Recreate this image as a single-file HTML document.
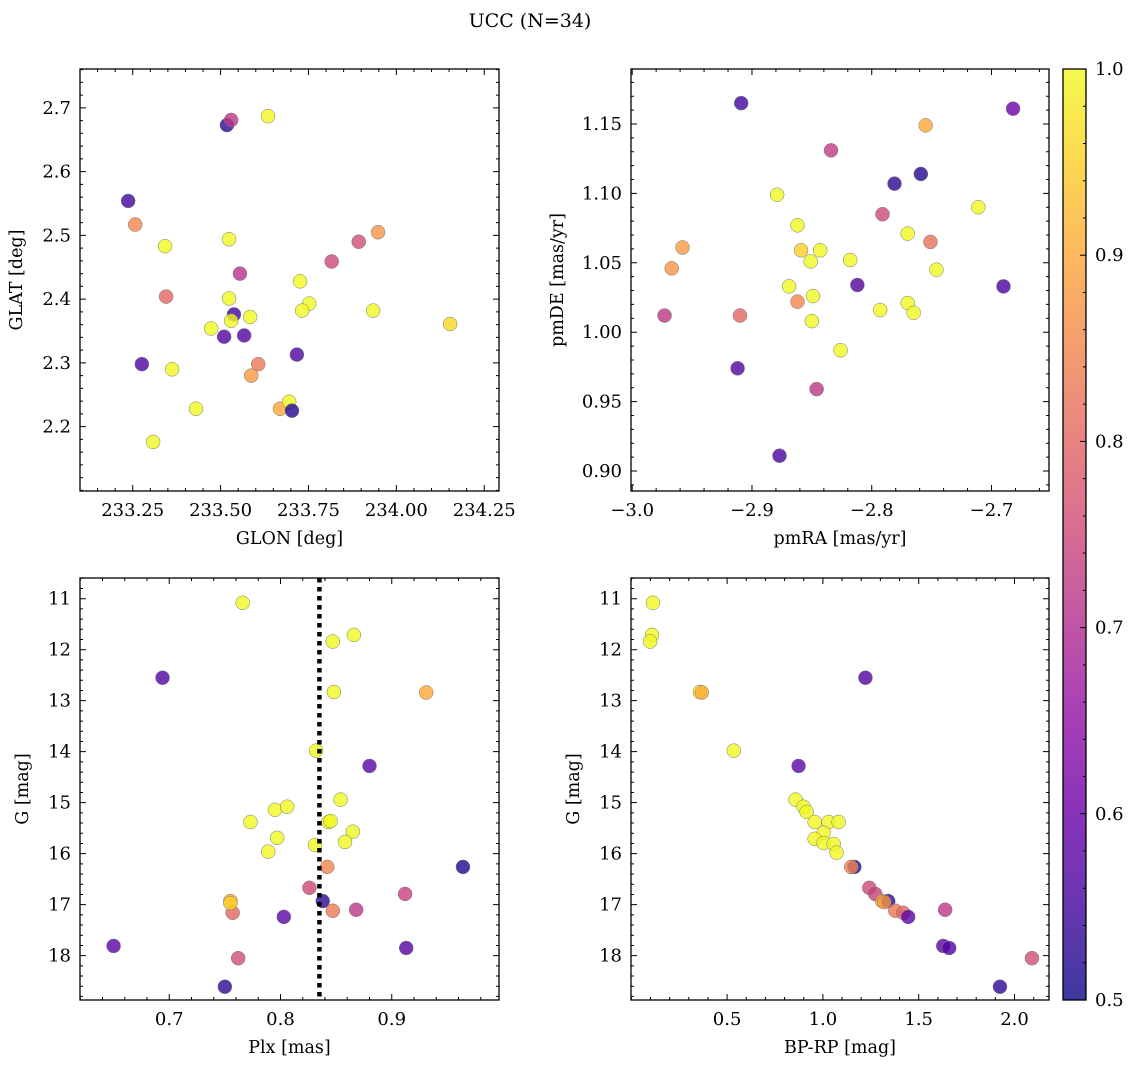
<!DOCTYPE html>
<html><head><meta charset="utf-8">
<style>
body{margin:0;background:#fff;}
svg{display:block;font-family:"DejaVu Serif","Liberation Serif",serif;}
</style></head>
<body>
<svg id="fig" width="1136" height="1068" viewBox="0 0 1136 1068">
<text x="530" y="27" text-anchor="middle" font-size="19">UCC (N=34)</text>
</svg>
<script>
// Panel 1: GLON vs GLAT
const glon = [233.518,233.530,233.635,233.237,233.257,233.342,233.524,233.555,233.816,233.893,233.948,233.726,233.345,233.524,233.752,233.732,233.934,234.153,233.538,233.584,233.530,233.473,233.510,233.567,233.717,233.607,233.276,233.362,233.587,233.430,233.669,233.695,233.703,233.308];
const glat = [2.673,2.681,2.687,2.554,2.517,2.483,2.494,2.440,2.459,2.490,2.505,2.428,2.404,2.401,2.393,2.382,2.382,2.361,2.376,2.372,2.366,2.354,2.341,2.343,2.313,2.298,2.298,2.290,2.280,2.228,2.228,2.239,2.225,2.176];
const prob1 = [0.53,0.72,1.0,0.55,0.85,1.0,1.0,0.71,0.75,0.76,0.87,1.0,0.8,1.0,1.0,1.0,1.0,0.96,0.55,1.0,1.0,1.0,0.57,0.57,0.57,0.83,0.57,1.0,0.88,1.0,0.9,1.0,0.52,1.0];
const glonTicks = [233.25,233.50,233.75,234.00,234.25];
const glatTicks = [2.2,2.3,2.4,2.5,2.6,2.7];
// Panel 2: pmRA vs pmDE
const pmra = [-2.909,-2.682,-2.755,-2.834,-2.759,-2.781,-2.879,-2.711,-2.791,-2.862,-2.770,-2.751,-2.958,-2.859,-2.843,-2.818,-2.851,-2.967,-2.746,-2.869,-2.812,-2.690,-2.849,-2.862,-2.770,-2.793,-2.765,-2.973,-2.910,-2.850,-2.826,-2.912,-2.846,-2.877];
const pmde = [1.165,1.161,1.149,1.131,1.114,1.107,1.099,1.090,1.085,1.077,1.071,1.065,1.061,1.059,1.059,1.052,1.051,1.046,1.045,1.033,1.034,1.033,1.026,1.022,1.021,1.016,1.014,1.012,1.012,1.008,0.987,0.974,0.959,0.911];
const prob2 = [0.55,0.6,0.9,0.73,0.52,0.53,1.0,1.0,0.75,1.0,1.0,0.82,0.88,0.95,1.0,1.0,1.0,0.87,1.0,1.0,0.57,0.56,1.0,0.85,1.0,1.0,1.0,0.72,0.8,1.0,1.0,0.57,0.72,0.56];
const pmraTicks = [-3.0,-2.9,-2.8,-2.7];
const pmdeTicks = [0.90,0.95,1.00,1.05,1.10,1.15];
// Panel 3: Plx vs G
const plx = [0.766,0.866,0.847,0.694,0.848,0.931,0.832,0.880,0.854,0.795,0.806,0.773,0.843,0.845,0.865,0.797,0.858,0.831,0.789,0.964,0.842,0.826,0.912,0.755,0.838,0.847,0.868,0.757,0.803,0.650,0.913,0.762,0.750,0.755];
const gmag3 = [11.08,11.71,11.84,12.55,12.83,12.84,13.98,14.28,14.94,15.14,15.08,15.38,15.38,15.36,15.57,15.69,15.77,15.83,15.96,16.26,16.26,16.67,16.79,16.93,16.93,17.12,17.10,17.16,17.24,17.81,17.85,18.05,18.61,16.97];
const prob3 = [1.0,1.0,1.0,0.57,1.0,0.9,1.0,0.58,1.0,1.0,1.0,1.0,1.0,1.0,1.0,1.0,1.0,1.0,1.0,0.52,0.85,0.75,0.74,0.9,0.53,0.83,0.72,0.8,0.58,0.58,0.57,0.76,0.53,0.95];
const plxTicks = [0.7,0.8,0.9];
const gTicks = [11,12,13,14,15,16,17,18];
// Panel 4: BP-RP vs G
const bprp = [0.113,0.108,0.098,1.222,0.358,0.368,0.535,0.873,0.857,0.899,0.915,0.957,1.030,1.082,1.004,0.957,1.004,1.056,1.071,1.164,1.148,1.242,1.273,1.310,1.341,1.378,1.638,1.419,1.445,1.628,1.659,2.091,1.924,1.320];
const gmag4 = [11.08,11.71,11.84,12.55,12.83,12.84,13.98,14.28,14.94,15.08,15.18,15.38,15.38,15.38,15.59,15.71,15.79,15.81,15.98,16.26,16.26,16.67,16.79,16.93,16.93,17.12,17.10,17.16,17.24,17.81,17.85,18.05,18.61,16.95];
const prob4 = [1.0,1.0,1.0,0.57,1.0,0.9,1.0,0.58,1.0,1.0,1.0,1.0,1.0,1.0,1.0,1.0,1.0,1.0,1.0,0.52,0.85,0.75,0.74,0.9,0.53,0.83,0.72,0.8,0.58,0.58,0.57,0.76,0.53,0.88];
const bprpTicks = [0.5,1.0,1.5,2.0];
const plxMedian = 0.835;
const cbTicks = [0.5,0.6,0.7,0.8,0.9,1.0];

const NS="http://www.w3.org/2000/svg";
const svg=document.getElementById('fig');
function mk(tag,attrs,parent){const e=document.createElementNS(NS,tag);for(const k in attrs)e.setAttribute(k,attrs[k]);(parent||svg).appendChild(e);return e;}
const stops=[[13,8,135],[65,4,157],[106,0,168],[143,13,164],[177,42,144],[204,71,120],[225,100,98],[242,132,75],[252,166,54],[252,206,37],[240,249,33]];
function plasma(t){t=Math.max(0,Math.min(1,t));const f=t*10,i=Math.min(9,Math.floor(f)),r=f-i;const a=stops[i],b=stops[i+1];return 'rgb('+a.map((v,k)=>Math.round(v+(b[k]-v)*r)).join(',')+')';}
function norm(p){return (p-0.5)/0.5;}
function ticksRange(a,b,s){const out=[];const n0=Math.ceil(a/s-1e-6),n1=Math.floor(b/s+1e-6);for(let n=n0;n<=n1;n++)out.push(+(n*s).toFixed(6));return out;}
function ticksStrict(a,b,s){const out=[];const n0=Math.ceil(a/s+1e-4),n1=Math.floor(b/s-1e-4);for(let n=n0;n<=n1;n++)out.push(+(n*s).toFixed(6));return out;}

function panel(cfg){
  const g=mk('g',{});
  
  
  const L=cfg.L,R=cfg.R,T=cfg.T,B=cfg.B;
  const sx=v=>L+(v-cfg.x0)/(cfg.x1-cfg.x0)*(R-L);
  const sy=v=>T+(v-cfg.y0)/(cfg.y1-cfg.y0)*(B-T);
  const xmin=Math.min(cfg.x0,cfg.x1),xmax=Math.max(cfg.x0,cfg.x1),ymin=Math.min(cfg.y0,cfg.y1),ymax=Math.max(cfg.y0,cfg.y1);
  const pg=mk('g',{},g);
  
  
  for(let i=0;i<cfg.xs.length;i++){
    const c=mk('circle',{cx:sx(cfg.xs[i]),cy:sy(cfg.ys[i]),r:7,fill:plasma(norm(cfg.cs[i])),'fill-opacity':0.8,stroke:'#777','stroke-width':0.5},pg);
    
    
  }
  if(cfg.extra)cfg.extra(g,sx,sy);
  const fr=mk('rect',{x:L,y:T,width:R-L,height:B-T,fill:'none',stroke:'#000','stroke-width':1.3},g);
  
  
  let d='';
  ticksStrict(xmin,xmax,cfg.xminor).forEach(v=>{const x=sx(v);d+=`M${x},${B}v-3M${x},${T}v3`;});
  ticksStrict(ymin,ymax,cfg.yminor).forEach(v=>{const y=sy(v);d+=`M${L},${y}h3M${R},${y}h-3`;});
  const xM=cfg.xticks, yM=cfg.yticks;
  xM.forEach(v=>{const x=sx(v);d+=`M${x},${B}v-6M${x},${T}v6`;});
  yM.forEach(v=>{const y=sy(v);d+=`M${L},${y}h6M${R},${y}h-6`;});
  const tk=mk('path',{d:d,stroke:'#000','stroke-width':1,fill:'none'},g);
  
  
  xM.forEach(v=>{
    const t=mk('text',{x:sx(v),y:B+25,'text-anchor':'middle','font-size':18},g);
    t.textContent=cfg.xfmt(v).replace('-','\u2212');
    
    
  });
  yM.forEach(v=>{
    const t=mk('text',{x:L-9,y:sy(v)+6,'text-anchor':'end','font-size':18},g);
    t.textContent=cfg.yfmt(v);
    
    
  });
  const xl=mk('text',{x:(L+R)/2,y:B+53,'text-anchor':'middle','font-size':17.5},g);
  xl.textContent=cfg.xlabel;
  
  
  const yx=cfg.ylx,yy=(T+B)/2;
  const yl=mk('text',{x:yx,y:yy,'text-anchor':'middle','font-size':17.5,transform:`rotate(-90 ${yx} ${yy})`},g);
  yl.textContent=cfg.ylabel;
  
  
}
const f=n=>v=>v.toFixed(n);
panel({name:'glon-glat-panel',L:80,R:499,T:69,B:491,x0:233.100,x1:234.292,y0:2.761,y1:2.099,xs:glon,ys:glat,cs:prob1,xticks:glonTicks,yticks:glatTicks,xminor:0.05,yminor:0.02,xfmt:f(2),yfmt:f(1),xlabel:'GLON [deg]',ylabel:'GLAT [deg]',ylx:22});
panel({name:'pm-panel',L:631,R:1049,T:69,B:491,x0:-3.001,x1:-2.652,y0:1.1896,y1:0.8856,xs:pmra,ys:pmde,cs:prob2,xticks:pmraTicks,yticks:pmdeTicks,xminor:0.02,yminor:0.01,xfmt:f(1),yfmt:f(2),xlabel:'pmRA [mas/yr]',ylabel:'pmDE [mas/yr]',ylx:563});
panel({name:'plx-g-panel',L:80,R:499,T:578,B:1000,x0:0.6198,x1:0.9964,y0:10.594,y1:18.87,xs:plx,ys:gmag3,cs:prob3,xticks:plxTicks,yticks:gTicks,xminor:0.02,yminor:0.2,xfmt:f(1),yfmt:f(0),xlabel:'Plx [mas]',ylabel:'G [mag]',ylx:28,
  extra:(g,sx,sy)=>{const l=mk('line',{x1:sx(plxMedian),x2:sx(plxMedian),y1:578,y2:1000,stroke:'#000','stroke-width':4.5,'stroke-dasharray':'4.5 4.5'},g);
    
    }});
panel({name:'cmd-panel',L:631,R:1049,T:578,B:1000,x0:-0.0016,x1:2.18,y0:10.594,y1:18.87,xs:bprp,ys:gmag4,cs:prob4,xticks:bprpTicks,yticks:gTicks,xminor:0.1,yminor:0.2,xfmt:f(1),yfmt:f(0),xlabel:'BP-RP [mag]',ylabel:'G [mag]',ylx:579});

const cb=mk('g',{});


const defs=mk('defs',{},cb);
const lg=mk('linearGradient',{id:'cbg',x1:0,y1:1,x2:0,y2:0},defs);
for(let i=0;i<=20;i++){mk('stop',{offset:i/20,'stop-color':plasma(i/20),'stop-opacity':0.8},lg);}
const CT=69,CB=1000,CL=1063,CR=1086;
mk('rect',{x:CL,y:CT,width:CR-CL,height:CB-CT,fill:'url(#cbg)',stroke:'#000','stroke-width':1.3},cb);
const cy=v=>CB-(v-0.5)/0.5*(CB-CT);
let cd='';
ticksRange(0.5,1.0,0.02).forEach(v=>{cd+=`M${CR},${cy(v)}h-3`;});
cbTicks.forEach(v=>{cd+=`M${CR},${cy(v)}h-6`;});
mk('path',{d:cd,stroke:'#000','stroke-width':1},cb);
cbTicks.forEach(v=>{
  const t=mk('text',{x:CR+9,y:cy(v)+6,'font-size':18},cb);
  t.textContent=v.toFixed(1);
  
  
});
</script>
</body></html>
